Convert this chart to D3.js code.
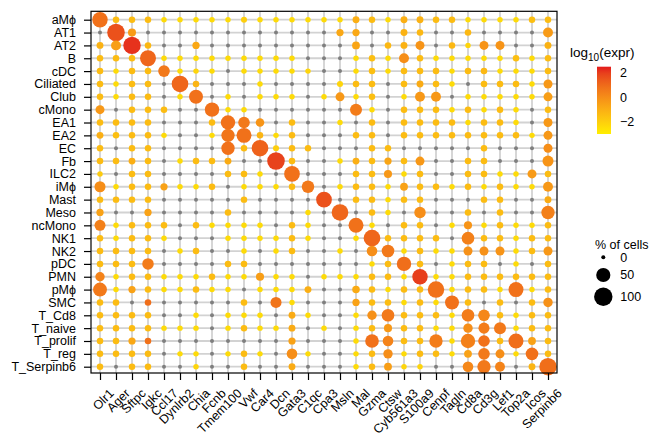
<!DOCTYPE html>
<html>
<head>
<meta charset="utf-8">
<script src="https://cdn.jsdelivr.net/npm/d3@7"></script>
<style>
body { margin:0; background:#fff; }
text { font-family: "Liberation Sans", Arial, Helvetica, sans-serif; fill:#000; }
</style>
</head>
<body>
<svg id="dotplot"></svg>
<script>
var cellTypes = ["aMϕ","AT1","AT2","B","cDC","Ciliated","Club","cMono","EA1","EA2","EC","Fb","ILC2","iMϕ",
    "Mast","Meso","ncMono","NK1","NK2","pDC","PMN","pMϕ","SMC","T_Cd8","T_naive","T_prolif","T_reg","T_Serpinb6"]

var genes = ["Olr1","Ager","Sftpc","Igkc","Ccl17","Dynlrb2","Chia","Fcnb","Tmem100","Vwf","Car4","Dcn","Gata3",
    "C1qc","Cpa3","Msln","Mal","Gzma","Ctsw","Cyb561a3","S100a9","Cenpf","Tagln","Cd8a","Cd3g","Lef1","Top2a","Icos","Serpinb6"]

// % of cells expressing, one row per cell type (columns follow genes)
var pctCells = [
    [63,3,3,3,1,1,1,1,1,2,1,1,1,1,1,1,4,3,1,4,4,3,3,1,1,1,1,3,3],
    [0,89,8,0,0,0,0,0,0,0,0,0,0,0,0,5,5,0,0,4,3,0,0,3,0,0,0,0,17],
    [4,17,87,3,0,0,5,0,0,0,0,0,0,0,0,0,7,0,3,4,12,0,3,1,12,12,0,0,4],
    [3,3,3,69,1,1,1,1,1,1,1,1,1,0,0,0,1,3,1,17,3,1,1,1,1,1,3,1,3],
    [3,1,3,3,28,1,1,1,0,1,1,1,1,1,0,0,1,3,1,3,3,3,1,3,3,1,1,1,3],
    [3,1,3,3,0,77,3,0,0,0,1,0,0,0,0,2,3,3,0,3,4,3,1,0,3,3,3,1,12],
    [3,1,3,3,0,1,48,0,1,0,1,1,1,0,1,12,1,3,0,1,17,17,0,1,1,1,1,1,12],
    [12,0,3,3,3,0,0,52,1,1,0,0,0,0,0,0,31,1,0,3,3,3,1,3,1,3,1,0,3],
    [3,3,3,3,0,0,0,3,52,28,10,0,3,0,0,1,0,3,0,3,3,3,3,1,3,3,1,0,12],
    [4,3,3,3,1,0,0,1,42,58,3,1,3,0,0,0,3,3,0,3,3,3,3,3,3,3,3,1,12],
    [3,0,3,3,0,0,0,0,42,3,77,2,3,3,0,0,0,3,3,0,0,0,0,0,3,0,0,0,12],
    [3,3,4,3,0,1,3,3,4,0,0,89,3,0,0,1,4,3,5,3,12,0,0,3,3,0,0,0,24],
    [1,0,3,3,0,0,0,0,3,3,1,0,66,0,0,0,3,3,8,1,3,0,0,3,3,1,1,12,3],
    [24,1,3,3,5,1,1,3,0,1,1,1,3,35,0,1,3,3,1,7,3,3,1,3,1,3,1,1,17],
    [3,3,3,3,0,0,0,0,0,3,0,0,0,0,66,0,3,3,1,3,3,0,0,0,3,3,0,0,4],
    [5,0,0,5,0,0,0,0,3,0,0,0,0,1,0,77,0,3,1,0,27,0,0,3,0,3,0,0,42],
    [24,1,3,3,3,0,3,1,1,1,1,0,3,1,0,0,58,1,0,3,3,0,1,8,1,3,1,1,3],
    [3,1,3,3,1,0,0,0,1,1,1,1,3,1,0,0,1,77,3,3,3,3,0,36,3,3,1,3,3],
    [3,3,3,3,0,1,3,0,0,1,0,1,3,0,0,1,0,21,36,1,3,1,1,12,12,12,1,3,12],
    [3,3,3,27,0,0,0,0,3,3,0,0,0,0,0,0,0,1,3,52,3,0,1,3,3,0,1,0,3],
    [14,1,3,3,1,1,1,3,1,1,8,1,1,0,1,1,1,3,3,1,63,1,1,3,3,3,3,3,3],
    [48,1,5,3,1,1,3,1,1,0,1,1,1,4,0,0,6,3,1,3,3,75,1,3,3,1,58,1,3],
    [3,3,0,3,0,0,0,0,0,3,0,24,1,0,0,0,5,3,3,1,3,1,48,3,0,3,0,3,14],
    [3,3,3,3,0,0,1,0,1,1,1,0,4,1,0,0,1,14,36,3,3,3,1,36,28,3,1,3,3],
    [3,3,3,3,1,1,1,0,1,3,1,1,4,0,1,0,1,3,8,3,3,1,1,14,24,31,1,3,3],
    [3,3,5,3,0,0,0,0,0,0,0,0,5,0,0,0,1,45,21,3,3,42,1,52,28,3,58,7,3],
    [3,3,3,3,0,1,1,0,1,3,1,0,21,1,0,0,1,3,14,1,3,3,1,7,28,12,1,36,3],
    [3,0,3,3,0,0,1,0,0,3,0,0,4,0,0,0,1,3,7,1,1,0,0,21,42,17,0,4,87]
]

// log10 mean expression, null = not detected (grey dot)
var logExpr = [
    [0.8,-1.4,-1.4,-1.4,-2.4,-2.4,-2.4,-2.4,-2.4,-2.0,-2.4,-2.4,-2.4,-2.4,-2.4,-2.4,-1.0,-1.4,-2.4,-1.0,-1.1,-1.4,-1.4,-2.4,-2.4,-2.4,-2.4,-1.5,-1.4],
    [null,1.6,-0.4,null,null,null,null,null,null,null,null,null,null,null,null,-0.8,-0.8,null,null,-1.1,-1.3,null,null,-1.3,null,null,null,null,-0.4],
    [-1.1,-0.5,2.2,-1.3,null,null,-0.8,null,null,null,null,null,null,null,null,null,-0.7,null,-1.3,-1.1,-0.2,null,-1.3,-2.2,-0.2,-0.2,null,null,-1.1],
    [-1.4,-1.4,-1.4,1.1,-2.4,-2.4,-2.4,-2.4,-2.4,-2.4,-2.4,-2.4,-2.4,null,null,null,-2.4,-1.5,-2.4,0,-1.4,-2.4,-2.4,-2.4,-2.4,-2.4,-1.5,-2.4,-1.4],
    [-1.4,-2.4,-1.4,-1.4,0.6,-2.4,-2.2,-2.4,null,-2.4,-2.4,-2.4,-2.4,-2.2,null,null,-2.4,-1.5,-2.4,-1.4,-1.4,-1.4,-2.4,-1.4,-1.3,-2.4,-2.4,-2.4,-1.4],
    [-1.4,-2.4,-1.4,-1.4,null,1.1,-1.2,null,null,null,-2.4,null,null,null,null,-2.2,-1.4,-1.4,null,-1.4,-0.9,-1.4,-2.4,null,-1.4,-1.4,-1.4,-2.4,-0.3],
    [-1.4,-2.4,-1.4,-1.4,null,-2.4,0.8,null,-2.4,null,-2.4,-2.4,-2.4,null,-2.4,-0.3,-2.4,-1.5,null,-2.4,-0.3,-0.3,null,-2.4,-2.4,-2.4,-2.4,-2.4,-0.5],
    [-0.3,null,-1.4,-1.4,-1.4,null,null,0.8,-2.4,-2.4,null,null,null,null,null,null,0.5,-2.4,null,-1.4,-1.4,-1.4,-2.4,-1.4,-2.4,-1.4,-2.4,null,-1.4],
    [-1.4,-1.4,-1.4,-1.4,null,null,null,-1.4,0.8,0.6,-0.2,null,-1.4,null,null,-2.4,null,-1.4,null,-1.4,-1.4,-1.4,-1.4,-2.4,-1.4,-1.4,-2.4,null,-0.3],
    [-1.0,-1.5,-1.4,-1.4,-2.4,null,null,-2.4,0.7,0.8,-1.2,-2.4,-1.4,null,null,null,-1.4,-1.4,null,-1.4,-1.4,-1.4,-1.4,-1.4,-1.4,-1.4,-1.4,-2.4,-0.3],
    [-1.4,null,-1.4,-1.4,null,null,null,null,0.8,-1.4,1.2,-2.0,-1.4,-1.4,null,null,null,-1.4,-1.4,null,null,null,null,null,-1.4,null,null,null,0],
    [-1.4,-1.4,-1.0,-1.4,null,-2.4,-1.4,-1.4,-0.9,null,null,1.9,-1.4,null,null,-2.4,-1.0,-1.4,-0.7,-1.4,-0.3,null,null,-1.4,-1.4,null,null,null,-0.2],
    [-1.9,null,-1.4,-1.4,null,null,null,null,-1.4,-1.4,-2.4,null,0.8,null,null,null,-1.4,-1.4,-0.3,-2.4,-1.4,null,null,-1.4,-1.4,-2.4,-2.4,-0.4,-1.4],
    [0,-2.4,-1.4,-1.4,-0.6,-2.4,-2.4,-1.4,null,-2.4,-2.4,-2.4,-1.4,0.6,null,-2.4,-1.4,-1.4,-2.4,-0.6,-1.4,-1.4,-2.4,-1.4,-2.4,-1.4,-2.4,-2.4,-0.3],
    [-1.4,-1.4,-1.4,-1.4,null,null,null,null,null,-1.4,null,null,null,null,1.6,null,-1.4,-1.4,-2.4,-1.4,-1.4,null,null,null,-1.4,-1.4,null,null,-0.9],
    [-0.6,null,null,-0.6,null,null,null,null,-1.4,null,null,null,null,-2.4,null,1.1,null,-1.4,-2.4,null,0,null,null,-1.4,null,-1.4,null,null,0.4],
    [0.4,-2.4,-1.4,-1.4,-1.4,null,-1.4,-2.4,-2.4,-2.4,-2.4,null,-1.4,-2.4,null,null,0.8,-2.4,null,-1.4,-1.4,null,-2.4,-0.2,-2.4,-1.4,-2.4,-2.4,-1.4],
    [-1.4,-2.4,-1.4,-1.4,-2.4,null,null,null,-2.4,-2.4,-2.4,-2.4,-1.4,-2.4,null,null,-2.4,1.1,-1.4,-1.4,-1.4,-1.4,null,0.4,-1.4,-1.4,-2.4,-1.4,-1.4],
    [-1.4,-1.4,-1.4,-1.4,null,-2.4,-1.4,null,null,-2.4,null,-2.4,-1.4,null,null,-2.4,null,0,0.6,-2.4,-1.4,-2.4,-2.4,-0.1,-0.1,-0.2,-2.4,-1.4,-0.3],
    [-1.4,-1.4,-1.4,0.5,null,null,null,null,-1.4,-1.4,null,null,null,null,null,null,null,-2.4,-1.4,0.9,-1.4,null,-2.4,-1.4,-1.4,null,-2.4,null,-1.4],
    [0.3,-2.4,-1.4,-1.4,-2.4,-2.4,-2.4,-1.4,-2.4,-2.4,-0.5,-2.4,-2.4,null,-2.4,-2.4,-2.4,-1.4,-1.4,-2.4,2.0,-2.4,-2.4,-1.4,-1.4,-1.4,-1.4,-1.4,-1.4],
    [0.6,-2.4,-0.6,-1.4,-2.4,-2.4,-1.4,-2.4,-2.4,null,-2.4,-2.4,-2.4,-1.0,null,null,-0.9,-1.4,-2.4,-1.4,-1.4,0.8,-2.4,-1.4,-1.4,-2.4,0.8,-2.4,-1.4],
    [-1.4,-1.4,null,0.9,null,null,null,null,null,-1.4,null,0.7,-2.4,null,null,null,-0.6,-1.4,-1.4,-2.4,-1.4,-2.4,0.8,-1.4,null,-1.4,null,-1.4,-0.1],
    [-1.4,-1.4,-1.4,-1.4,null,null,-2.4,null,-2.4,-2.4,-2.4,null,-0.9,-2.4,null,null,-2.4,-0.1,0.6,-1.4,-1.4,-1.4,-2.4,0.5,0.2,-1.4,-2.4,-1.4,-1.4],
    [-1.4,-1.4,-1.4,-1.4,-2.4,-2.4,-2.4,null,-2.4,-1.4,-2.4,-2.4,-0.9,null,-2.4,null,-2.4,-1.4,-0.3,-1.4,-1.4,-2.4,-2.4,0,0.5,0.6,-2.4,-1.4,-1.4],
    [-1.4,-1.4,-0.8,0.8,null,null,null,null,null,null,null,null,-0.6,null,null,null,-2.4,0.8,0.3,-1.4,-1.4,0.5,-2.4,0.4,0.8,-1.4,0.9,-0.6,-1.4],
    [-1.4,-1.4,-1.4,-1.4,null,-2.4,-2.4,null,-2.4,-1.4,-2.4,null,0,-2.4,null,null,-2.4,-1.4,0,-2.4,-1.4,-1.4,-2.4,-0.6,0.6,0,-2.4,0.8,-1.4],
    [-1.4,null,-1.4,-1.4,null,null,-2.2,null,null,-1.4,null,null,-0.9,null,null,null,-2.4,-1.4,-0.5,-2.2,-2.2,null,null,0.2,0.6,0.3,null,-1.2,0.9]
]

var colorTicks = [-2, 0, 2]
var sizeTicks = [0, 50, 100]

var screen = {width:651, height:436}
var margins = {top:11.3, left:91, right:94, bottom:63}
var graph = {width:466, height:361.7}

var colorScale = d3.scaleLinear()
    .domain([-3, 2.5])
    .range(["#ffee00", "#e31a1c"])
    .interpolate(d3.interpolateLab)
    .clamp(true)

var rScale = d3.scaleSqrt()
    .domain([0, 100])
    .range([2, 9.2])

var svg = d3.select("#dotplot")
    .attr("width", screen.width)
    .attr("height", screen.height)

var xScale = d3.scalePoint().domain(genes).range([9, graph.width - 9])
var yScale = d3.scalePoint().domain(cellTypes).range([8.4, graph.height - 6.3])

var g = svg.append("g")
    .attr("transform", "translate(" + margins.left + "," + margins.top + ")")

// grid
g.append("g").selectAll("line")
    .data(genes)
    .enter()
    .append("line")
    .attr("x1", function(d){ return xScale(d) })
    .attr("x2", function(d){ return xScale(d) })
    .attr("y1", 0)
    .attr("y2", graph.height)
    .attr("stroke", "#d2d2d2")
    .attr("stroke-width", 1.8)

g.append("g").selectAll("line")
    .data(cellTypes)
    .enter()
    .append("line")
    .attr("y1", function(d){ return yScale(d) })
    .attr("y2", function(d){ return yScale(d) })
    .attr("x1", 0)
    .attr("x2", graph.width)
    .attr("stroke", "#d2d2d2")
    .attr("stroke-width", 1.8)

var cells = []
cellTypes.forEach(function(ct, i)
{
    genes.forEach(function(gene, j)
    {
        cells.push({cell:ct, gene:gene, pct:pctCells[i][j], expr:logExpr[i][j]})
    })
})

g.append("g").selectAll("circle")
    .data(cells)
    .enter()
    .append("circle")
    .attr("cx", function(d){ return xScale(d.gene) })
    .attr("cy", function(d){ return yScale(d.cell) })
    .attr("r", function(d){ return rScale(d.pct) })
    .attr("fill", function(d){ return d.expr === null ? "#7f7f7f" : colorScale(d.expr) })

// frame
g.append("rect")
    .attr("width", graph.width)
    .attr("height", graph.height)
    .attr("fill", "none")
    .attr("stroke", "#000")
    .attr("stroke-width", 1.2)

var yAxis = g.append("g")
    .call(d3.axisLeft(yScale).tickSize(7).tickPadding(8))
yAxis.select(".domain").remove()
yAxis.selectAll("line").attr("stroke-width", 1.2)
yAxis.selectAll("text").style("font-size", "12.5px")

var xAxis = g.append("g")
    .attr("transform", "translate(0," + graph.height + ")")
    .call(d3.axisBottom(xScale).tickSize(7).tickPadding(3))
xAxis.select(".domain").remove()
xAxis.selectAll("line").attr("stroke-width", 1.2)
xAxis.selectAll("text")
    .style("font-size", "12.5px")
    .attr("text-anchor", "end")
    .attr("dy", "0.35em")
    .attr("transform", "translate(4,11) rotate(-45)")

svg.selectAll(".tick text").attr("font-family", null).attr("fill", "#000")

// colour legend
var legendY = d3.scaleLinear().domain([-3, 2.5]).range([134, 66.7])

var defs = svg.append("defs")
var grad = defs.append("linearGradient")
    .attr("id", "exprGrad")
    .attr("x1", 0).attr("x2", 0).attr("y1", 1).attr("y2", 0)
d3.range(0, 1.01, 0.1).forEach(function(t)
{
    grad.append("stop")
        .attr("offset", t)
        .attr("stop-color", colorScale(-3 + t * 5.5))
})

svg.append("rect")
    .attr("x", 597)
    .attr("y", legendY(2.5))
    .attr("width", 14)
    .attr("height", legendY(-3) - legendY(2.5))
    .attr("fill", "url(#exprGrad)")

var title = svg.append("text")
    .attr("x", 570)
    .attr("y", 57)
    .style("font-size", "13.5px")
title.append("tspan").text("log")
title.append("tspan").text("10").attr("dy", 4).style("font-size", "10px")
title.append("tspan").text("(expr)").attr("dy", -4)

svg.append("g").selectAll("text")
    .data(colorTicks)
    .enter()
    .append("text")
    .attr("x", 620)
    .attr("y", function(d){ return legendY(d) })
    .attr("dy", "0.35em")
    .style("font-size", "12.5px")
    .text(function(d){ return d < 0 ? "\u2212" + Math.abs(d) : d })

// size legend
svg.append("text")
    .attr("x", 595)
    .attr("y", 249)
    .style("font-size", "12.5px")
    .text("% of cells")

var sizeY = [257.3, 275, 296.7]
var sizeLegend = svg.append("g").selectAll("g")
    .data(sizeTicks)
    .enter()
    .append("g")
    .attr("transform", function(d, i){ return "translate(603.3," + sizeY[i] + ")" })
sizeLegend.append("circle")
    .attr("r", function(d){ return rScale(d) })
    .attr("fill", "#000")
sizeLegend.append("text")
    .attr("x", 17)
    .attr("dy", "0.35em")
    .style("font-size", "12.5px")
    .text(function(d){ return d })
</script>
</body>
</html>
